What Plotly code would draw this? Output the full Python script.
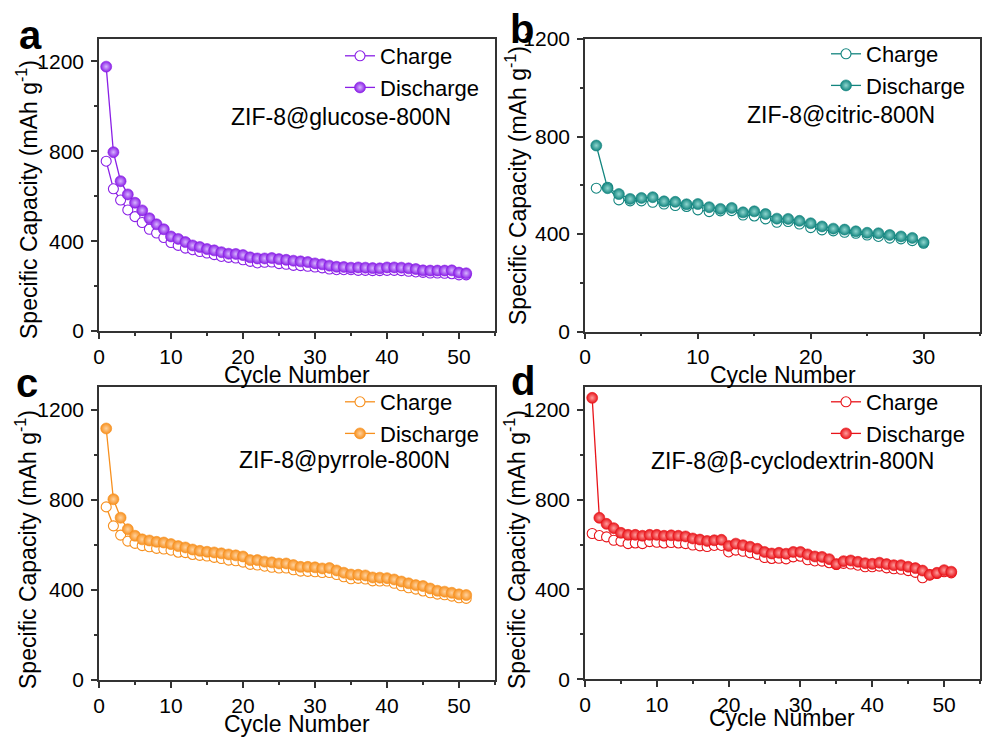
import plotly.graph_objects as go

cycles51 = list(range(1, 52))
cycles30 = list(range(1, 31))

a_charge = [756, 633, 583, 539, 509, 483, 453, 436, 416, 394, 381, 369, 362, 354, 347, 340, 332, 328, 325, 317,
            310, 303, 306, 307, 300, 297, 292, 291, 288, 285, 281, 276, 273, 273, 273, 270, 270, 269, 269, 270,
            270, 269, 266, 263, 261, 258, 258, 257, 255, 250, 250]
a_discharge = [1177, 796, 667, 608, 571, 537, 502, 475, 453, 421, 410, 396, 381, 374, 365, 359, 351, 344, 343, 338,
               328, 323, 323, 325, 320, 317, 313, 310, 307, 301, 297, 291, 286, 285, 282, 283, 282, 280, 279, 283,
               283, 282, 279, 276, 270, 269, 269, 269, 270, 260, 257]

b_charge = [588, 592, 540, 536, 536, 530, 523, 517, 513, 499, 492, 495, 496, 478, 474, 462, 448, 451, 441, 426,
            417, 413, 407, 403, 396, 390, 383, 380, 373, 362]
b_discharge = [763, 588, 564, 544, 548, 551, 534, 532, 522, 523, 510, 503, 507, 489, 493, 482, 463, 462, 454, 444,
               431, 422, 418, 411, 405, 403, 396, 390, 384, 366]

c_charge = [768, 684, 643, 616, 606, 596, 591, 584, 581, 576, 567, 565, 557, 553, 550, 544, 539, 532, 529, 523,
            513, 510, 505, 500, 497, 497, 489, 483, 482, 480, 477, 477, 468, 458, 449, 451, 448, 440, 439, 439,
            429, 418, 409, 403, 395, 387, 381, 378, 372, 365, 362]
c_discharge = [1116, 802, 720, 669, 640, 624, 619, 613, 610, 603, 594, 588, 579, 573, 569, 566, 562, 557, 553, 548,
               532, 532, 525, 522, 517, 517, 510, 502, 502, 500, 495, 497, 486, 476, 468, 467, 464, 455, 454, 452,
               446, 437, 429, 421, 417, 406, 396, 392, 387, 380, 377]

d_charge = [649, 640, 634, 619, 615, 604, 607, 604, 613, 610, 607, 609, 607, 604, 598, 594, 591, 596, 596, 567,
            575, 570, 563, 556, 542, 538, 539, 536, 545, 548, 532, 527, 526, 519, 511, 516, 513, 508, 501, 501,
            504, 496, 492, 490, 484, 476, 452, 465, 471, 479, 474]
d_discharge = [1253, 719, 692, 673, 652, 643, 643, 639, 643, 643, 639, 641, 639, 636, 627, 622, 616, 619, 621, 594,
               604, 597, 590, 581, 567, 560, 563, 559, 567, 567, 556, 547, 545, 535, 513, 526, 529, 523, 517, 514,
               519, 513, 508, 508, 501, 495, 484, 465, 474, 486, 479]

samples = ["ZIF-8@glucose-800N", "ZIF-8@citric-800N", "ZIF-8@pyrrole-800N", "ZIF-8@β-cyclodextrin-800N"]
panel_letters = ["a", "b", "c", "d"]
series_names = ["Charge", "Discharge"]
x_title = "Cycle Number"
y_title = "Specific Capacity (mAh g<sup>-1</sup>)"

W, H = 982, 737
FONT = "Arial, Liberation Sans, sans-serif"

# plot-area pixel boxes (left, top, right, bottom)
boxes = [(99, 39, 495, 331), (585, 39, 980, 331.5), (99, 387, 495, 680), (585, 387.3, 980, 679.3)]
xranges = [[0, 55], [0, 35], [0, 55], [0, 55]]
yranges = [[0, 1300], [0, 1200], [0, 1300], [0, 1300]]
colors = ["#8a1fe6", "#13857f", "#f7901e", "#e8141a"]
light = ["#d7b4ff", "#8fd6cf", "#ffd29e", "#ff9c9c"]

data = [
    (cycles51, a_charge, a_discharge),
    (cycles30, b_charge, b_discharge),
    (cycles51, c_charge, c_discharge),
    (cycles51, d_charge, d_discharge),
]

fig = go.Figure()

def px2x(p):
    return p / W

def px2y(p):
    return 1 - p / H

legend_pos = [(340, 35), (826, 33), (340, 381), (826, 381)]
ytitle_pos = [(27, 200), (516, 186), (26, 550), (515, 550)]
xtitle_pos = [(297, 375), (783, 375), (297, 724), (782, 718)]
letter_pos = [(30, 35), (522, 29), (27, 383), (523, 381)]
label_pos = [(453, 117), (937, 115), (452, 460), (936, 461)]

annotations = []
for i in range(4):
    n = i + 1
    sfx = "" if n == 1 else str(n)
    xa, ya = "x" + sfx, "y" + sfx
    leg = "legend" + sfx
    cyc, ch, dis = data[i]
    c = colors[i]
    fig.add_trace(go.Scatter(
        x=cyc, y=ch, mode="lines+markers", name=series_names[0], xaxis=xa, yaxis=ya, legend=leg,
        line=dict(color=c, width=1.3),
        marker=dict(symbol="circle", size=10, color="white", line=dict(color=c, width=1.1)),
    ))
    fig.add_trace(go.Scatter(
        x=cyc, y=dis, mode="lines+markers", name=series_names[1], xaxis=xa, yaxis=ya, legend=leg,
        line=dict(color=c, width=1.3),
        marker=dict(symbol="circle", size=11, color=c, line=dict(color=c, width=0.6),
                    gradient=dict(type="radial", color=light[i])),
    ))
    l, t, r, b = boxes[i]
    axis_common = dict(
        showline=True, linecolor="#333333", linewidth=1.5, mirror=True,
        ticks="outside", ticklen=6, tickwidth=1.5, tickcolor="#333333",
        showgrid=False, zeroline=False, automargin=False,
        tickfont=dict(family=FONT, size=21, color="black"),
    )
    fig.update_layout(**{
        "xaxis" + sfx: dict(domain=[px2x(l), px2x(r)], range=xranges[i], dtick=10, anchor=ya,
                             minor=dict(ticks="outside", ticklen=3, dtick=5, tickcolor="#333333", tickwidth=1.5),
                             **axis_common),
        "yaxis" + sfx: dict(domain=[px2y(b), px2y(t)], range=yranges[i], dtick=400, anchor=xa,
                             minor=dict(ticks="outside", ticklen=3, dtick=200, tickcolor="#333333", tickwidth=1.5),
                             ticklabelstandoff=3,
                             **axis_common),
        leg: dict(x=px2x(legend_pos[i][0]), y=px2y(legend_pos[i][1]), xanchor="left", yanchor="top",
                  bgcolor="rgba(0,0,0,0)", font=dict(family=FONT, size=22, color="black"),
                  tracegroupgap=0, itemwidth=30),
    })
    annotations.append(dict(text=samples[i], x=px2x(label_pos[i][0]), y=px2y(label_pos[i][1]),
                            xref="paper", yref="paper", xanchor="right", yanchor="middle", showarrow=False,
                            font=dict(family=FONT, size=23, color="black")))
    annotations.append(dict(text=y_title, x=px2x(ytitle_pos[i][0]), y=px2y(ytitle_pos[i][1]),
                            xref="paper", yref="paper", xanchor="center", yanchor="middle", showarrow=False,
                            textangle=-90, font=dict(family=FONT, size=23, color="black")))
    annotations.append(dict(text=x_title, x=px2x(xtitle_pos[i][0]), y=px2y(xtitle_pos[i][1]),
                            xref="paper", yref="paper", xanchor="center", yanchor="middle", showarrow=False,
                            font=dict(family=FONT, size=23, color="black")))
    annotations.append(dict(text="<b>" + panel_letters[i] + "</b>", x=px2x(letter_pos[i][0]),
                            y=px2y(letter_pos[i][1]), xref="paper", yref="paper", xanchor="center",
                            yanchor="middle", showarrow=False, font=dict(family=FONT, size=40, color="black")))

fig.update_layout(
    width=W, height=H, margin=dict(l=0, r=0, t=0, b=0, pad=0, autoexpand=False),
    paper_bgcolor="white", plot_bgcolor="white",
    annotations=annotations, showlegend=True,
)

fig.write_html("out.html")
